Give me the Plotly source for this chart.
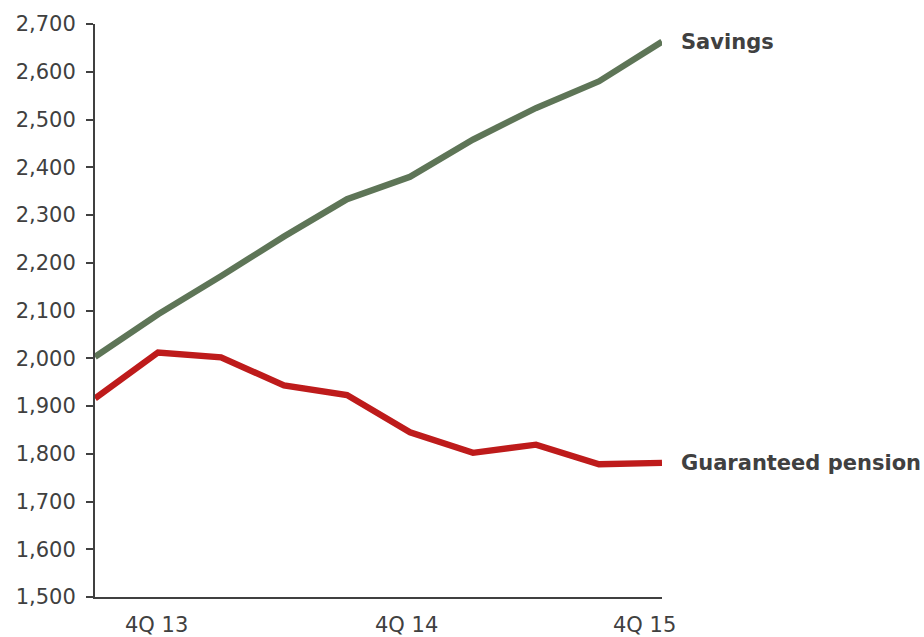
import plotly.graph_objects as go

quarters = ["3Q 13", "4Q 13", "1Q 14", "2Q 14", "3Q 14", "4Q 14", "1Q 15", "2Q 15", "3Q 15", "4Q 15"]
savings = [2003, 2092, 2172, 2255, 2333, 2380, 2458, 2524, 2580, 2663]
guaranteed = [1916, 2012, 2002, 1943, 1923, 1845, 1802, 1819, 1778, 1781]
tick_labels = ["4Q 13", "4Q 14", "4Q 15"]
tick_idx = [1, 5, 9]
tick_shift = [-2, -4, -18]
y_ticks = list(range(1500, 2701, 100))

GREEN = "#5E7557"
RED = "#BE1B1B"
TXT = "#404040"
FONT = "DejaVu Sans, Verdana, sans-serif"

x = list(range(len(quarters)))

fig = go.Figure()
fig.add_trace(go.Scatter(x=x, y=savings, mode="lines", line=dict(color=GREEN, width=6.3),
                         name="Savings", hoverinfo="skip"))
fig.add_trace(go.Scatter(x=x, y=guaranteed, mode="lines", line=dict(color=RED, width=6.3),
                         name="Guaranteed pension", hoverinfo="skip"))

# series labels at the right end
for name, vals in [("Savings", savings), ("Guaranteed pension", guaranteed)]:
    fig.add_annotation(x=x[-1], y=vals[-1], text="<b>" + name + "</b>", showarrow=False,
                       xanchor="left", yanchor="middle", xshift=17,
                       font=dict(family=FONT, size=21, color=TXT))

# x tick labels
for i, lab, sh in zip(tick_idx, tick_labels, tick_shift):
    fig.add_annotation(x=i, y=0, yref="paper", text=lab, showarrow=False,
                       xanchor="center", yanchor="middle", xshift=sh, yshift=-28,
                       font=dict(family=FONT, size=21, color=TXT))

fig.update_layout(
    width=924, height=637,
    margin=dict(l=95, r=262, t=16, b=40),
    paper_bgcolor="white", plot_bgcolor="white",
    showlegend=False,
    font=dict(family=FONT, size=21, color=TXT),
)
fig.update_xaxes(range=[0, 9], showgrid=False, zeroline=False, showticklabels=False,
                 ticks="", showline=True, linecolor=TXT, linewidth=2)
fig.update_yaxes(range=[1500, 2700], tickvals=y_ticks, tickformat=",d", showgrid=False,
                 zeroline=False, ticks="outside", ticklen=7, tickwidth=2, tickcolor=TXT,
                 showline=True, linecolor=TXT, linewidth=2, ticklabelstandoff=6,
                 tickfont=dict(family=FONT, size=21, color=TXT))

fig.write_html("out.html", config={"displayModeBar": False},
               post_script="document.body.style.margin='0';document.body.style.overflow='hidden';")
